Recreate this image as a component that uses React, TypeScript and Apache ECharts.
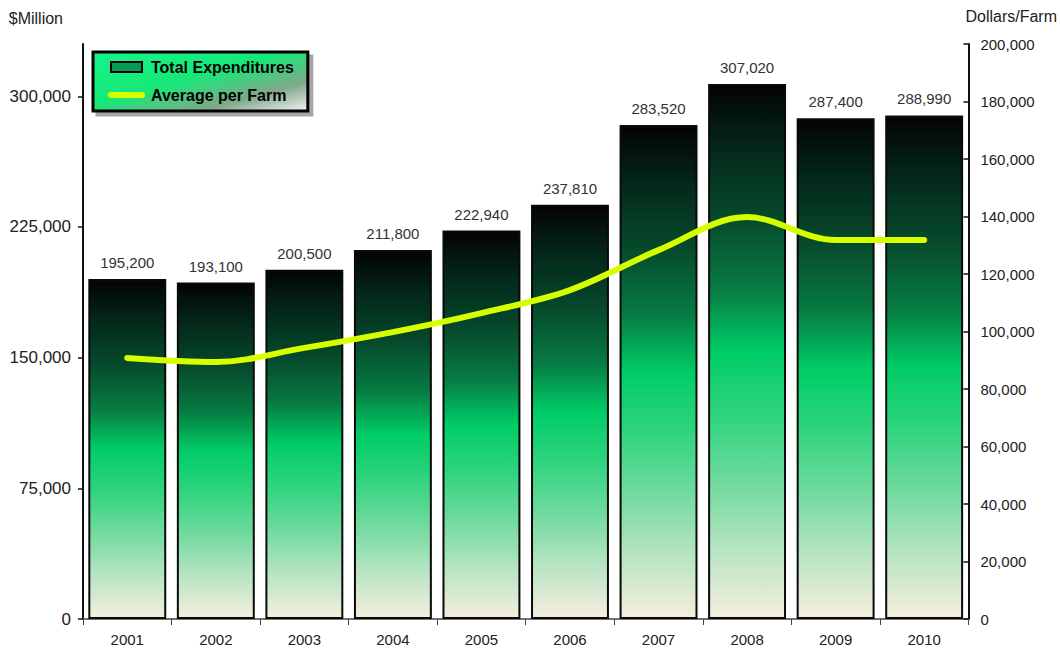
import React, { useEffect, useRef } from "react";
import * as echarts from "echarts";

const years = ["2001", "2002", "2003", "2004", "2005", "2006", "2007", "2008", "2009", "2010"];
const totalExpenditures = [195200, 193100, 200500, 211800, 222940, 237810, 283520, 307020, 287400, 288990];
const averagePerFarm = [90800, 89400, 94300, 99800, 106400, 114400, 128300, 139800, 131800, 131800];

const fmt = (v: number) => v.toLocaleString("en-US");
const FONT = "'Liberation Sans', Arial, sans-serif";

export default function App() {
  const ref = useRef<HTMLDivElement>(null);
  useEffect(() => {
    if (!ref.current) return;
    const chart = echarts.init(ref.current, undefined, { renderer: "svg" });
    const barGrad = new echarts.graphic.LinearGradient(0, 0, 0, 1, [
      { offset: 0, color: "#030303" },
      { offset: 0.12, color: "#04281a" },
      { offset: 0.25, color: "#064a2c" },
      { offset: 0.38, color: "#077a42" },
      { offset: 0.5, color: "#00cc66" },
      { offset: 0.62, color: "#2fd47e" },
      { offset: 0.75, color: "#72daa0" },
      { offset: 0.87, color: "#b6e4c2" },
      { offset: 1, color: "#f6eedf" },
    ]);
    const legendGrad = new echarts.graphic.LinearGradient(0, 0, 1, 1, [
      { offset: 0, color: "#10f58a" },
      { offset: 0.45, color: "#18e878" },
      { offset: 0.75, color: "#7fa88a" },
      { offset: 1, color: "#f2f2f2" },
    ]);
    chart.setOption({
      animation: false,
      backgroundColor: "#ffffff",
      textStyle: { fontFamily: FONT },
      grid: { left: 83, right: 91, top: 44, bottom: 33, containLabel: false },
      legend: {
        orient: "vertical",
        left: 93,
        top: 52,
        padding: [7, 14, 8, 15],
        itemGap: 12,
        itemWidth: 31,
        itemHeight: 10,
        backgroundColor: legendGrad,
        borderColor: "#000",
        borderWidth: 3,
        shadowColor: "rgba(0,0,0,0.35)",
        shadowOffsetX: 4,
        shadowOffsetY: 4,
        shadowBlur: 0,
        textStyle: { fontFamily: FONT, fontSize: 16, fontWeight: "bold", color: "#000", padding: [0, 0, 0, 4] },
        data: [
          { name: "Total Expenditures", icon: "rect", itemStyle: { color: "#0a9a55", borderColor: "#000", borderWidth: 2 } },
          { name: "Average per Farm", itemStyle: { opacity: 0 }, lineStyle: { color: "#d6ff00", width: 6 } },
        ],
      },
      xAxis: {
        type: "category",
        data: years,
        axisLine: { lineStyle: { color: "#444", width: 1.5 } },
        axisTick: { show: true, length: 6, lineStyle: { color: "#444" } },
        axisLabel: { color: "#222", fontSize: 15, margin: 13, fontFamily: FONT },
      },
      yAxis: [
        {
          type: "value",
          min: 0,
          max: 330000,
          interval: 75000,
          position: "left",
          name: "$Million",
          nameLocation: "end",
          nameGap: 18,
          nameTextStyle: { color: "#222", fontSize: 16, align: "right", padding: [0, 20, 0, 0], fontFamily: FONT },
          axisLine: { show: true, lineStyle: { color: "#111", width: 2 } },
          axisTick: { show: true, length: 5, lineStyle: { color: "#111", width: 1.5 } },
          axisLabel: { color: "#222", fontSize: 17, margin: 12, showMaxLabel: false, formatter: (v: number) => fmt(v), fontFamily: FONT },
          splitLine: { show: false },
        },
        {
          type: "value",
          min: 0,
          max: 200000,
          interval: 20000,
          position: "right",
          name: "Dollars/Farm",
          nameLocation: "end",
          nameGap: 20,
          nameTextStyle: { color: "#222", fontSize: 16, align: "left", padding: [0, 0, 0, -3], fontFamily: FONT },
          axisLine: { show: true, lineStyle: { color: "#111", width: 2 } },
          axisTick: { show: true, inside: true, length: 5, lineStyle: { color: "#111", width: 1.5 } },
          axisLabel: { color: "#222", fontSize: 15, margin: 12, formatter: (v: number) => fmt(v), fontFamily: FONT },
          splitLine: { show: false },
        },
      ],
      series: [
        {
          name: "Total Expenditures",
          type: "bar",
          yAxisIndex: 0,
          data: totalExpenditures,
          barWidth: "88%",
          itemStyle: { color: barGrad, borderColor: "#0a0a0a", borderWidth: 2 },
          label: {
            show: true,
            position: "top",
            distance: 9,
            color: "#333",
            fontSize: 15,
            fontFamily: FONT,
            formatter: (p: any) => fmt(p.value),
          },
          z: 2,
        },
        {
          name: "Average per Farm",
          type: "line",
          yAxisIndex: 1,
          data: averagePerFarm,
          smooth: 0.35,
          symbol: "none",
          lineStyle: { color: "#d6ff00", width: 6, cap: "round" },
          itemStyle: { color: "#d6ff00" },
          z: 5,
        },
      ],
    });
    return () => chart.dispose();
  }, []);
  return <div ref={ref} style={{ position: "fixed", left: 0, top: 0, width: 1060, height: 652 }} />;
}
